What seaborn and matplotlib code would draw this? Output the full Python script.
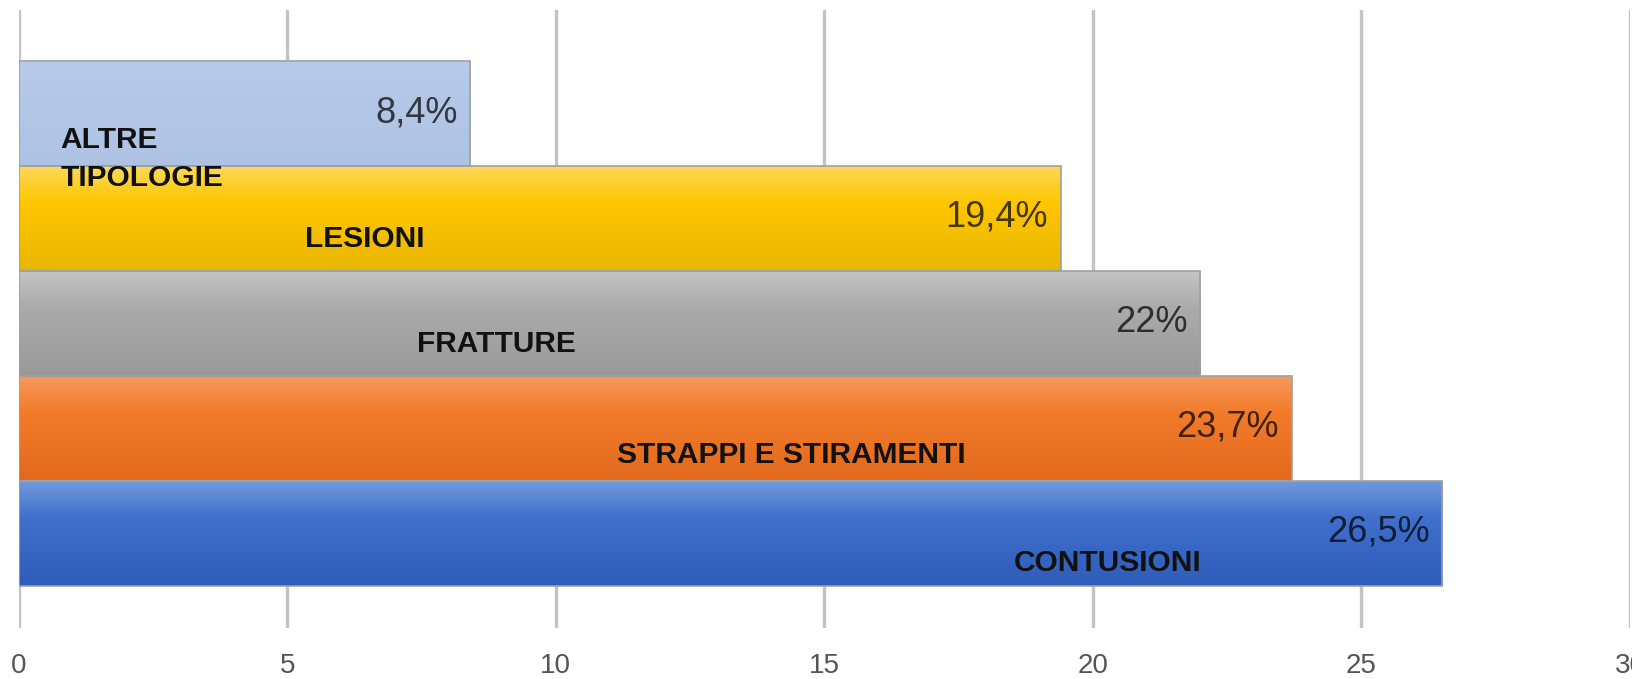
import numpy as np
import pandas as pd
import seaborn as sns
import matplotlib.pyplot as plt
from matplotlib.colors import LinearSegmentedColormap

# data
categories = ["ALTRE\nTIPOLOGIE", "LESIONI", "FRATTURE", "STRAPPI E STIRAMENTI", "CONTUSIONI"]
values = [8.4, 19.4, 22.0, 23.7, 26.5]
value_labels = ["8,4%", "19,4%", "22%", "23,7%", "26,5%"]
x_ticks = [0, 5, 10, 15, 20, 25, 30]

# gradient colours per bar: top, middle, bottom
bar_colors = [
    ("#b9cbea", "#b4c7e7", "#aec2e4"),
    ("#fdd95a", "#ffc600", "#e9b700"),
    ("#c4c4c4", "#ababab", "#999999"),
    ("#f79a5c", "#f27b2b", "#e2691c"),
    ("#7199dc", "#3f70cb", "#2f5cba"),
]
# where the category names sit inside the bars (x in data units, y shift)
name_x = [0.78, 5.33, 7.41, 11.13, 18.52]
name_dy = [0.43, 0.19, 0.19, 0.25, 0.28]

df = pd.DataFrame({"cat": categories, "val": values})

sns.set_style("white")
fig = plt.figure(figsize=(16.33, 6.79), dpi=100)
ax = fig.add_axes([0.0115, 0.0751, 0.9866, 0.9096])

sns.barplot(data=df, y="cat", x="val", hue="cat", palette=[c[1] for c in bar_colors],
            orient="h", width=1.0, legend=False, ax=ax,
            edgecolor="#a0a0a0", linewidth=1.2)

ylim = (4.5 + 0.397, -0.5 - 0.486)

# paint each bar with a vertical gradient
for patch, cols in zip(ax.patches, bar_colors):
    x0, y0 = patch.get_x(), patch.get_y()
    w, h = patch.get_width(), patch.get_height()
    cmap = LinearSegmentedColormap.from_list("g", [(0, cols[0]), (0.35, cols[1]), (1, cols[2])])
    grad = np.linspace(0, 1, 256).reshape(-1, 1)
    im = ax.imshow(grad, cmap=cmap, aspect="auto", origin="upper",
                   extent=(x0, x0 + w, y0 + h, y0), zorder=2, interpolation="bicubic")
    im.set_clip_path(patch)
    patch.set_facecolor("none")
    patch.set_zorder(3)

ax.set_xlim(0, 30)
ax.set_ylim(*ylim)

for i, (v, lab) in enumerate(zip(values, value_labels)):
    ax.annotate(lab, xy=(v, i), xytext=(-9, 1), textcoords="offset points",
                ha="right", va="center", fontsize=26, family=["Liberation Sans"],
                color="black", alpha=0.72, zorder=5)

for i, name in enumerate(categories):
    ax.text(name_x[i], i + name_dy[i], name, ha="left", va="center",
            fontsize=21.5, fontweight="bold", family=["Liberation Sans"],
            color="#111111", linespacing=1.45, zorder=5)

ax.set_xticks(x_ticks)
ax.set_xticklabels([str(t) for t in x_ticks], family=["Liberation Sans"], fontsize=20, color="#555555")
ax.tick_params(axis="x", length=0, pad=18)
ax.set_yticks([])
ax.set_xlabel("")
ax.set_ylabel("")
ax.grid(axis="x", color="#c3c3c3", linewidth=2.4)
ax.set_axisbelow(True)
for s in ax.spines.values():
    s.set_visible(False)

fig.savefig("out.png", dpi=100)
